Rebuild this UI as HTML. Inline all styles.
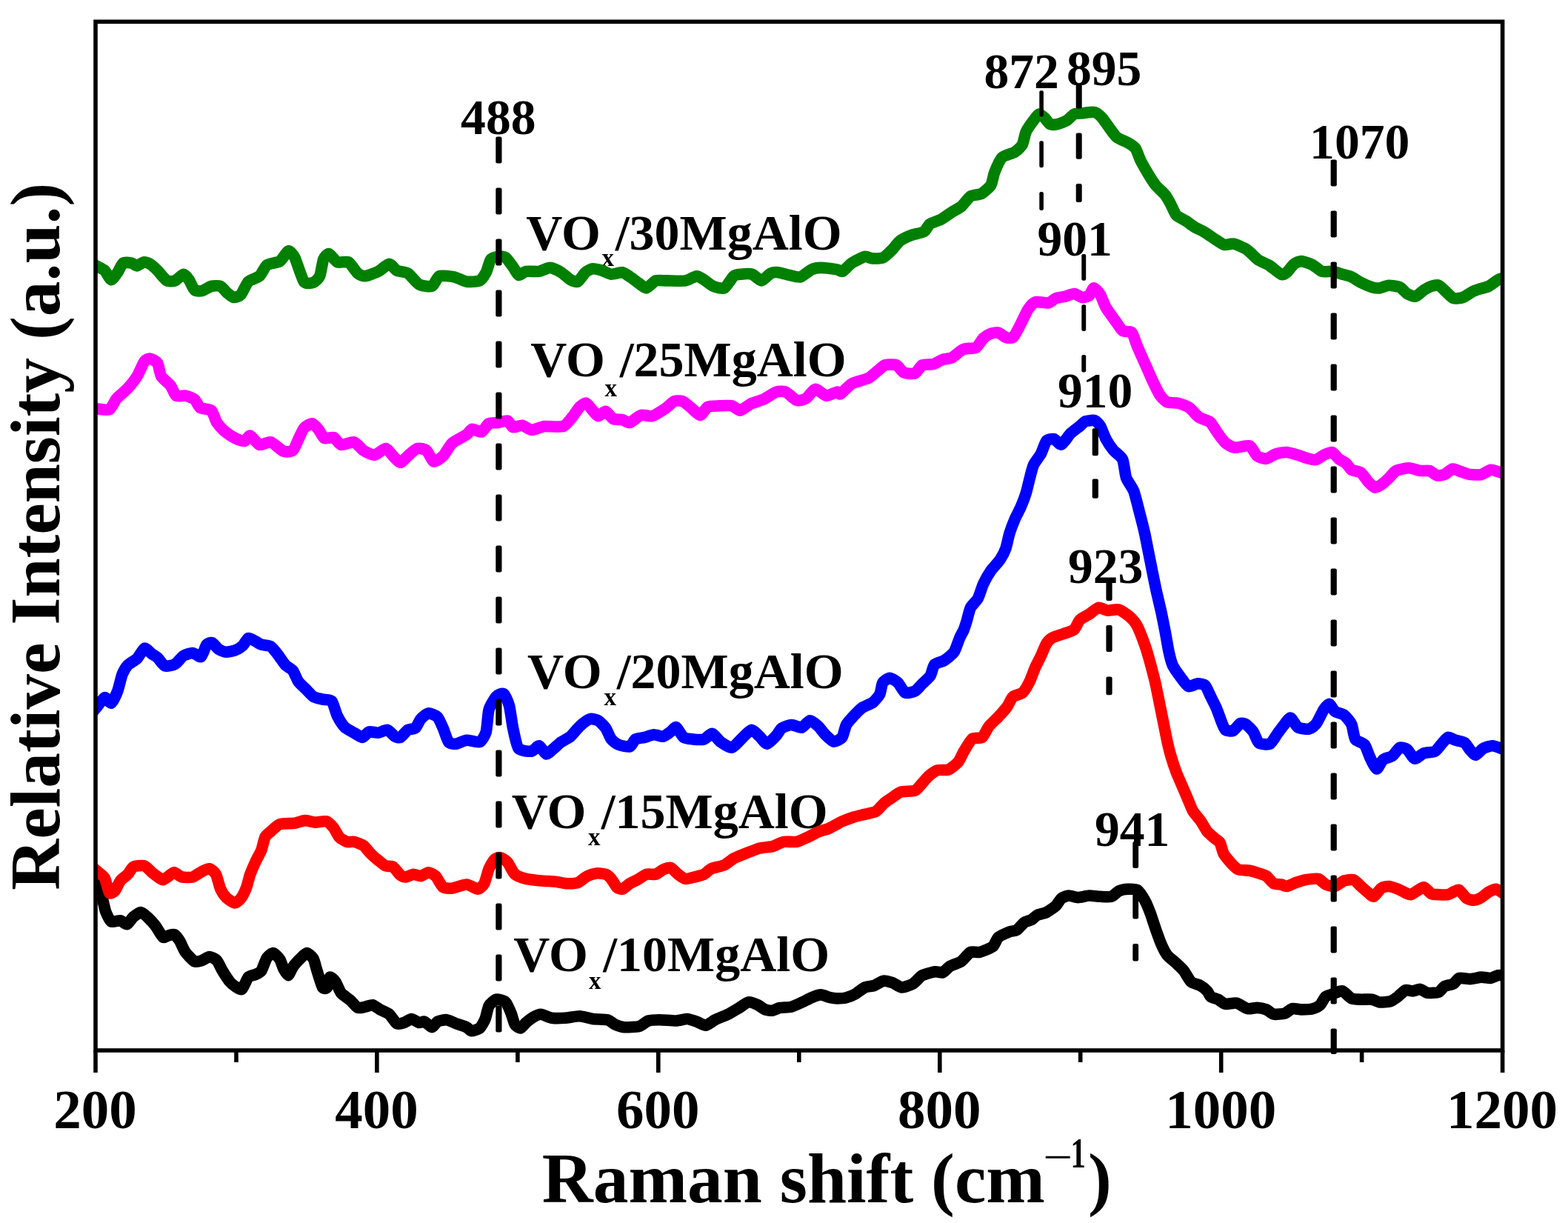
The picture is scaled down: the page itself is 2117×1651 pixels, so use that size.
<!DOCTYPE html>
<html lang="en"><head><meta charset="utf-8"><title>Raman spectra of VOx/MgAlO catalysts</title>
<style>html,body{margin:0;padding:0;background:#fff}body{width:2117px;height:1651px;overflow:hidden}svg{display:block}text{font-family:"Liberation Serif","DejaVu Serif",serif;font-weight:bold;fill:#000}.pk{font-size:67.6px}.cl{font-size:68px}.sub{font-size:33px}.tk{font-size:75px;text-anchor:middle}.ax{font-size:95.5px}.sup{font-size:57px}.cv{fill:none;stroke-linejoin:round;stroke-linecap:butt}</style></head><body>
<svg width="2117" height="1651" viewBox="0 0 2117 1651">
<rect width="2117" height="1651" fill="#fff"/>
<g>
<text class="cl" x="710.3" y="337.3">VO</text><text class="sub" x="812.5" y="359">x</text><text class="cl" x="830.7" y="337.3">/30MgAlO</text>
<text class="cl" x="716.3" y="508">VO</text><text class="sub" x="816.5" y="534.5">x</text><text class="cl" x="836.7" y="508">/25MgAlO</text>
<text class="cl" x="711.9" y="929">VO</text><text class="sub" x="815.5" y="952">x</text><text class="cl" x="832.7" y="929">/20MgAlO</text>
<text class="cl" x="690.7" y="1117.6">VO</text><text class="sub" x="794.0" y="1141">x</text><text class="cl" x="811.7" y="1117.6">/15MgAlO</text>
<text class="cl" x="693.3" y="1311">VO</text><text class="sub" x="795.0" y="1335">x</text><text class="cl" x="814.2" y="1311">/10MgAlO</text>
</g>
<clipPath id="plot"><rect x="129.0" y="29.3" width="1899.6" height="1388.7"/></clipPath>
<g clip-path="url(#plot)">
<path class="cv" stroke="#000000" stroke-width="15.6" d="M118,1158.2 C119.3,1161.6 127.9,1184.7 130,1190.2 C132.1,1195.7 136.3,1205.9 137.6,1210.2 C138.9,1214.5 141.3,1226.7 142.6,1230.3 C143.9,1233.9 148.0,1242.7 150.1,1244 C152.2,1245.3 160.3,1242.4 162.6,1242.8 C164.9,1243.2 169.5,1248.3 171.4,1247.8 C173.3,1247.3 178.1,1239.5 180.1,1237.8 C182.1,1236.1 188.0,1231.4 190.1,1231.5 C192.2,1231.6 198.0,1237.0 200.1,1239 C202.2,1241.0 208.1,1247.5 210.2,1250.3 C212.3,1253.1 218.3,1264.0 220.2,1265.3 C222.1,1266.6 226.1,1263.2 227.7,1262.8 C229.3,1262.4 233.6,1260.8 235.2,1261.6 C236.8,1262.4 241.1,1267.8 242.7,1270.3 C244.3,1272.8 248.1,1282.4 250.2,1285.3 C252.3,1288.2 260.3,1296.7 262.7,1297.9 C265.1,1299.1 270.6,1297.3 272.7,1296.6 C274.8,1295.9 280.7,1291.6 282.8,1291.6 C284.9,1291.6 290.9,1294.6 292.8,1296.6 C294.7,1298.6 298.4,1307.3 300.3,1310.4 C302.2,1313.5 308.4,1323.1 310.3,1325.4 C312.2,1327.7 316.1,1330.6 317.8,1331.7 C319.5,1332.8 324.7,1336.7 326.6,1335.4 C328.5,1334.1 333.3,1321.2 335.3,1319.1 C337.3,1317.0 343.4,1316.3 345.3,1315.4 C347.2,1314.5 351.3,1312.8 352.9,1310.4 C354.5,1308.0 358.7,1295.3 360.4,1292.8 C362.1,1290.3 367.2,1286.3 369.1,1286.6 C371.0,1286.9 376.4,1293.0 377.9,1295.3 C379.4,1297.6 381.7,1305.6 382.9,1307.9 C384.1,1310.2 387.9,1316.9 389.2,1316.6 C390.5,1316.3 393.7,1307.8 395.4,1305.4 C397.1,1303.0 403.4,1296.1 405.4,1294.1 C407.4,1292.1 412.3,1286.6 414.2,1286.6 C416.1,1286.6 421.5,1291.6 423,1294.1 C424.5,1296.6 426.7,1306.3 428,1310.4 C429.3,1314.5 434.0,1330.5 435.5,1332.9 C437.0,1335.3 440.6,1334.4 441.7,1332.9 C442.8,1331.4 444.3,1319.9 445.5,1319.1 C446.7,1318.3 451.4,1323.1 453,1325.4 C454.6,1327.7 458.4,1337.7 460.5,1340.4 C462.6,1343.1 470.6,1348.3 473,1350.4 C475.4,1352.5 480.9,1359.5 483,1360.4 C485.1,1361.3 491.0,1359.6 493.1,1359.2 C495.2,1358.8 501.0,1356.3 503.1,1356.7 C505.2,1357.1 510.7,1361.6 513.1,1362.9 C515.5,1364.2 523.2,1367.2 525.6,1369.2 C528.0,1371.2 533.5,1380.5 535.6,1381.7 C537.7,1382.9 543.5,1381.2 545.6,1380.5 C547.7,1379.8 553.5,1375.5 555.6,1375.5 C557.7,1375.5 563.8,1380.1 565.7,1380.5 C567.6,1380.9 571.3,1378.5 573.2,1379.2 C575.1,1379.9 581.3,1386.7 583.2,1386.7 C585.1,1386.7 588.6,1380.3 590.7,1379.2 C592.8,1378.1 600.5,1376.4 603.2,1376.7 C605.9,1377.0 612.8,1380.6 615.7,1381.7 C618.6,1382.8 627.8,1385.6 630,1386.7 C632.2,1387.8 634.4,1391.6 636.3,1391.7 C638.2,1391.8 645.6,1389.7 647.6,1388 C649.6,1386.3 653.8,1378.7 655.1,1375.5 C656.4,1372.3 658.5,1360.7 660.1,1357.9 C661.7,1355.1 667.7,1349.7 670.1,1349.2 C672.5,1348.7 680.5,1350.9 682.6,1352.9 C684.7,1354.9 688.8,1364.8 690.1,1368 C691.4,1371.2 693.8,1380.9 695.1,1383 C696.4,1385.1 701.0,1388.3 702.6,1388 C704.2,1387.7 708.3,1382.1 710.2,1380.5 C712.1,1378.9 718.1,1374.2 720.2,1373 C722.3,1371.8 727.5,1369.1 730.2,1369.2 C732.9,1369.3 741.7,1373.7 745.2,1374.2 C748.7,1374.7 758.7,1374.5 762.7,1374.2 C766.7,1373.9 778.8,1371.6 782.8,1371.7 C786.8,1371.8 796.3,1375.0 800.3,1375.5 C804.3,1376.0 817.1,1375.9 820.3,1376.7 C823.5,1377.5 827.9,1381.9 830.3,1383 C832.7,1384.1 839.3,1386.4 842.8,1386.7 C846.3,1387.0 859.4,1386.4 862.9,1385.5 C866.4,1384.6 872.5,1378.9 875.4,1378 C878.3,1377.1 886.4,1376.7 890.4,1376.7 C894.4,1376.7 908.9,1378.1 912.9,1378 C916.9,1377.9 925.1,1375.4 928,1375.5 C930.9,1375.6 937.8,1378.3 940.5,1379.2 C943.2,1380.1 950.3,1384.5 953,1384.2 C955.7,1383.9 962.3,1378.3 965.5,1376.7 C968.7,1375.1 979.5,1370.9 983,1369.2 C986.5,1367.5 995.2,1362.1 998.1,1360.4 C1001.0,1358.7 1007.9,1353.3 1010.6,1352.9 C1013.3,1352.5 1020.7,1355.6 1023.1,1356.7 C1025.5,1357.8 1031.0,1362.1 1033.1,1362.9 C1035.2,1363.7 1041.0,1364.5 1043.1,1364.2 C1045.2,1363.9 1050.4,1360.9 1053.1,1360.4 C1055.8,1359.9 1065.0,1360.0 1068.2,1359.2 C1071.4,1358.4 1080.3,1354.2 1083.2,1352.9 C1086.1,1351.6 1093.0,1347.8 1095.7,1346.7 C1098.4,1345.6 1105.5,1342.9 1108.2,1342.9 C1110.9,1342.9 1118.4,1346.2 1120.7,1346.7 C1123.0,1347.2 1127.7,1347.9 1130,1347.9 C1132.3,1347.9 1139.9,1347.4 1142.6,1346.7 C1145.3,1346.0 1152.4,1343.2 1155.1,1341.7 C1157.8,1340.2 1164.9,1334.2 1167.6,1333 C1170.3,1331.8 1177.4,1331.4 1180.1,1330.5 C1182.8,1329.6 1189.9,1324.6 1192.6,1324.2 C1195.3,1323.8 1202.4,1325.8 1205.1,1326.7 C1207.8,1327.6 1214.8,1332.9 1217.7,1333 C1220.6,1333.1 1229.8,1329.7 1232.7,1328 C1235.6,1326.3 1242.0,1318.4 1245.2,1316.7 C1248.4,1315.0 1259.8,1312.1 1262.7,1311.7 C1265.6,1311.3 1270.6,1313.7 1272.7,1312.9 C1274.8,1312.1 1280.1,1305.8 1282.8,1304.2 C1285.5,1302.6 1294.9,1299.9 1297.8,1297.9 C1300.7,1295.9 1307.6,1286.7 1310.3,1285.4 C1313.0,1284.1 1319.6,1286.2 1322.8,1285.4 C1326.0,1284.6 1337.6,1280.0 1340.3,1277.9 C1343.0,1275.8 1345.5,1267.5 1347.9,1265.4 C1350.3,1263.3 1360.2,1259.0 1362.9,1257.9 C1365.6,1256.8 1370.8,1256.7 1372.9,1255.4 C1375.0,1254.1 1380.8,1246.8 1382.9,1245.3 C1385.0,1243.8 1391.0,1242.7 1392.9,1241.6 C1394.8,1240.5 1398.3,1236.4 1400.4,1235.3 C1402.5,1234.2 1410.2,1232.9 1412.9,1231.6 C1415.6,1230.3 1423.4,1224.8 1425.5,1222.8 C1427.6,1220.8 1431.1,1214.3 1433,1212.8 C1434.9,1211.3 1440.6,1209.1 1443,1209 C1445.4,1208.9 1452.6,1211.6 1455.5,1211.6 C1458.4,1211.6 1467.3,1209.1 1470.5,1209 C1473.7,1208.9 1482.3,1210.2 1485.5,1210.3 C1488.7,1210.4 1497.9,1211.1 1500.6,1210.3 C1503.3,1209.5 1508.2,1203.9 1510.6,1202.8 C1513.0,1201.7 1520.4,1200.4 1523.1,1200.3 C1525.8,1200.2 1533.2,1199.9 1535.6,1201.5 C1538.0,1203.1 1543.7,1212.0 1545.6,1215.3 C1547.5,1218.6 1551.5,1228.5 1553.1,1232.8 C1554.7,1237.1 1559.1,1250.9 1560.7,1255.4 C1562.3,1259.9 1566.6,1271.8 1568.2,1275.4 C1569.8,1279.0 1573.6,1286.5 1575.7,1289.2 C1577.8,1291.9 1585.8,1298.1 1588.2,1300.4 C1590.6,1302.7 1596.1,1307.7 1598.2,1310.4 C1600.3,1313.1 1605.8,1323.4 1608.2,1325.5 C1610.6,1327.6 1618.4,1329.2 1620.7,1330.5 C1623.0,1331.8 1628.5,1336.4 1630,1338 C1631.5,1339.6 1633.0,1344.2 1634.6,1345.4 C1636.2,1346.6 1642.5,1348.1 1644.6,1349.2 C1646.7,1350.3 1651.9,1354.9 1654.6,1355.4 C1657.3,1355.9 1666.4,1353.5 1669.6,1354.2 C1672.8,1354.9 1681.7,1361.0 1684.6,1361.7 C1687.5,1362.4 1694.5,1360.3 1697.2,1360.4 C1699.9,1360.5 1707.3,1362.0 1709.7,1362.9 C1712.1,1363.8 1717.0,1368.7 1719.7,1369.2 C1722.4,1369.7 1732.0,1368.8 1734.7,1368 C1737.4,1367.2 1742.3,1362.2 1744.7,1361.7 C1747.1,1361.2 1754.3,1362.9 1757.2,1362.9 C1760.1,1362.9 1769.6,1362.4 1772.3,1361.7 C1775.0,1361.0 1780.4,1358.4 1782.3,1356.7 C1784.2,1355.0 1787.9,1347.0 1789.8,1345.4 C1791.7,1343.8 1797.4,1342.5 1799.8,1341.7 C1802.2,1340.9 1809.6,1337.2 1812.3,1337.9 C1815.0,1338.6 1822.1,1346.7 1824.8,1347.9 C1827.5,1349.1 1834.5,1349.1 1837.4,1349.2 C1840.3,1349.3 1849.7,1348.8 1852.4,1349.2 C1855.1,1349.6 1859.7,1352.6 1862.4,1352.9 C1865.1,1353.2 1874.7,1352.5 1877.4,1351.7 C1880.1,1350.9 1885.3,1347.0 1887.4,1345.4 C1889.5,1343.8 1895.3,1337.5 1897.4,1336.7 C1899.5,1335.9 1905.4,1338.0 1907.5,1337.9 C1909.6,1337.8 1915.4,1335.1 1917.5,1335.4 C1919.6,1335.7 1924.8,1340.0 1927.5,1340.4 C1930.2,1340.8 1940.1,1340.1 1942.5,1339.2 C1944.9,1338.3 1947.9,1332.9 1950,1331.7 C1952.1,1330.5 1960.4,1329.1 1962.5,1327.9 C1964.6,1326.7 1967.6,1321.1 1970,1320.4 C1972.4,1319.7 1981.9,1321.7 1985.1,1321.6 C1988.3,1321.5 1997.2,1319.2 2000.1,1319.1 C2003.0,1319.0 2010.2,1320.7 2012.6,1320.4 C2015.0,1320.1 2020.7,1317.0 2022.6,1316.6 C2024.5,1316.2 2028.0,1316.6 2030.1,1316.6 C2032.2,1316.6 2040.8,1316.6 2042.1,1316.6"/>
<path class="cv" stroke="#ff0000" stroke-width="15.6" d="M118,1164.5 C119.3,1165.6 127.5,1173.0 130,1175.2 C132.5,1177.4 139.4,1182.0 141.3,1185.2 C143.2,1188.4 146.1,1203.3 147.6,1205.2 C149.1,1207.1 153.5,1204.4 155.1,1202.7 C156.7,1201.0 160.7,1191.3 162.6,1188.9 C164.5,1186.5 170.7,1182.2 172.6,1180.2 C174.5,1178.2 177.7,1171.4 180.1,1170.2 C182.5,1169.0 192.4,1168.1 195.1,1168.9 C197.8,1169.7 203.0,1176.0 205.1,1177.7 C207.2,1179.4 213.6,1184.1 215.2,1185.2 C216.8,1186.3 218.9,1188.0 220.2,1187.7 C221.5,1187.4 226.1,1183.8 227.7,1182.7 C229.3,1181.6 233.3,1177.6 235.2,1177.7 C237.1,1177.8 242.5,1183.2 245.2,1183.9 C247.9,1184.6 257.3,1184.7 260.2,1183.9 C263.1,1183.1 270.3,1177.6 272.7,1176.4 C275.1,1175.2 280.8,1172.3 282.8,1172.7 C284.8,1173.1 289.9,1177.3 291.5,1180.2 C293.1,1183.1 296.3,1196.9 297.8,1200.2 C299.3,1203.5 303.3,1209.5 305.3,1211.5 C307.3,1213.5 314.5,1218.9 316.6,1219 C318.7,1219.1 323.6,1215.0 325.3,1212.7 C327.0,1210.4 331.5,1201.2 332.8,1197.7 C334.1,1194.2 336.5,1183.9 337.8,1180.2 C339.1,1176.5 343.7,1166.2 345.3,1162.7 C346.9,1159.2 351.6,1151.1 352.9,1147.6 C354.2,1144.1 356.6,1132.8 357.9,1130.1 C359.2,1127.4 363.3,1124.5 365.4,1122.6 C367.5,1120.7 374.4,1113.8 377.9,1112.6 C381.4,1111.4 394.3,1111.8 397.9,1111.3 C401.5,1110.8 408.8,1107.7 411.7,1107.6 C414.6,1107.5 422.4,1110.0 425.5,1110.1 C428.6,1110.2 437.8,1108.0 440.5,1108.8 C443.2,1109.6 448.6,1115.3 450.5,1117.6 C452.4,1119.9 456.1,1128.1 458,1130.1 C459.9,1132.1 465.9,1135.7 468,1136.4 C470.1,1137.1 475.6,1135.9 478,1136.4 C480.4,1136.9 488.2,1139.7 490.6,1141.4 C493.0,1143.1 498.5,1150.5 500.6,1152.6 C502.7,1154.7 508.5,1159.7 510.6,1161.4 C512.7,1163.1 518.5,1168.0 520.6,1168.9 C522.7,1169.8 528.5,1168.9 530.6,1170.2 C532.7,1171.5 538.7,1179.9 540.6,1181.4 C542.5,1182.9 546.2,1184.0 548.1,1183.9 C550.0,1183.8 556.1,1180.3 558.2,1180.2 C560.3,1180.1 566.1,1183.0 568.2,1182.7 C570.3,1182.4 576.1,1177.7 578.2,1177.7 C580.3,1177.7 586.1,1180.6 588.2,1182.7 C590.3,1184.8 595.8,1196.0 598.2,1197.7 C600.6,1199.4 607.3,1199.4 610.7,1199 C614.1,1198.6 626.3,1193.9 630,1194 C633.7,1194.1 642.6,1200.3 645.1,1200.2 C647.6,1200.1 652.2,1195.6 653.8,1192.7 C655.4,1189.8 658.6,1176.2 660.1,1172.7 C661.6,1169.2 666.0,1161.8 667.6,1160.2 C669.2,1158.6 673.2,1157.3 675.1,1157.7 C677.0,1158.1 683.0,1161.5 685.1,1163.9 C687.2,1166.3 692.4,1177.8 695.1,1180.2 C697.8,1182.6 706.5,1185.5 710.2,1186.4 C713.9,1187.3 725.9,1188.5 730.2,1188.9 C734.5,1189.3 746.5,1189.8 750.2,1190.2 C753.9,1190.6 762.0,1192.6 765.2,1192.7 C768.4,1192.8 777.4,1192.6 780.3,1191.5 C783.2,1190.4 790.1,1184.0 792.8,1182.7 C795.5,1181.4 802.6,1179.2 805.3,1178.9 C808.0,1178.6 815.7,1179.4 817.8,1180.2 C819.9,1181.0 823.7,1184.5 825.3,1186.4 C826.9,1188.3 831.2,1196.2 832.8,1197.7 C834.4,1199.2 838.4,1200.7 840.3,1200.2 C842.2,1199.7 848.3,1194.0 850.4,1192.7 C852.5,1191.4 858.0,1189.0 860.4,1187.7 C862.8,1186.4 870.2,1181.0 872.9,1180.2 C875.6,1179.4 883.0,1180.9 885.4,1180.2 C887.8,1179.5 893.3,1174.8 895.4,1173.9 C897.5,1173.0 903.3,1170.7 905.4,1171.4 C907.5,1172.1 913.3,1178.6 915.4,1180.2 C917.5,1181.8 923.1,1186.0 925.5,1186.4 C927.9,1186.8 935.3,1184.6 938,1183.9 C940.7,1183.2 948.1,1181.4 950.5,1180.2 C952.9,1179.0 957.6,1174.0 960.5,1172.7 C963.4,1171.4 974.8,1169.2 978,1167.7 C981.2,1166.2 987.7,1160.5 990.6,1158.9 C993.5,1157.3 1001.9,1154.1 1005.6,1152.6 C1009.3,1151.1 1021.6,1146.2 1025.6,1145.1 C1029.6,1144.0 1039.6,1143.5 1043.1,1142.6 C1046.6,1141.7 1054.7,1137.1 1058.2,1136.4 C1061.7,1135.7 1072.2,1137.1 1075.7,1136.4 C1079.2,1135.7 1087.5,1131.6 1090.7,1130.1 C1093.9,1128.6 1102.8,1123.8 1105.7,1122.6 C1108.6,1121.4 1115.6,1119.9 1118.2,1118.8 C1120.8,1117.7 1128.0,1113.7 1130,1112.6 C1132.0,1111.5 1134.6,1109.9 1136.9,1108.9 C1139.2,1107.9 1148.8,1104.2 1152,1103.2 C1155.2,1102.2 1163.9,1100.2 1167.1,1099.4 C1170.3,1098.6 1179.5,1097.2 1182.3,1095.6 C1185.1,1094.0 1191.4,1086.2 1193.6,1084.3 C1195.8,1082.4 1200.6,1079.3 1203,1077.7 C1205.4,1076.1 1212.9,1070.3 1216.3,1069.2 C1219.7,1068.1 1232.2,1068.5 1235.2,1067.3 C1238.2,1066.1 1242.6,1059.9 1244.6,1057.8 C1246.6,1055.7 1251.9,1049.3 1254.1,1047.4 C1256.3,1045.5 1262.6,1040.8 1265.4,1039.9 C1268.2,1039.0 1277.5,1040.1 1280.5,1038.9 C1283.5,1037.7 1291.5,1031.2 1293.7,1028.6 C1295.9,1026.0 1299.3,1017.7 1301.3,1014.4 C1303.3,1011.1 1310.0,999.4 1312.6,997.4 C1315.2,995.4 1323.5,997.3 1325.9,995.5 C1328.3,993.7 1332.9,983.4 1335.3,980.4 C1337.7,977.4 1345.9,969.9 1348.5,967.1 C1351.1,964.3 1357.9,956.7 1359.9,953.9 C1361.9,951.1 1365.2,942.7 1367.4,940.7 C1369.6,938.7 1378.3,937.2 1380.7,935 C1383.1,932.8 1388.3,923.5 1390.1,919.9 C1391.9,916.3 1396.1,904.6 1397.7,901 C1399.3,897.4 1403.6,889.3 1405.2,885.9 C1406.8,882.5 1411.2,871.5 1412.8,868.9 C1414.4,866.3 1417.9,862.7 1420.3,861.3 C1422.7,859.9 1432.3,856.9 1435.5,855.7 C1438.7,854.5 1447.6,852.0 1450,850 C1452.4,848.0 1455.8,838.9 1458,836.7 C1460.2,834.5 1467.8,830.9 1470.5,829.2 C1473.2,827.5 1480.3,820.9 1483,820.4 C1485.7,819.9 1492.7,823.9 1495.6,824.2 C1498.5,824.5 1507.4,822.0 1510.6,822.9 C1513.8,823.8 1522.9,830.5 1525.6,832.9 C1528.3,835.3 1533.5,841.5 1535.6,845.5 C1537.7,849.5 1543.7,865.2 1545.6,870.5 C1547.5,875.8 1551.5,889.6 1553.1,895.5 C1554.7,901.4 1558.3,914.5 1560.7,925.6 C1563.1,936.7 1573.6,989.9 1575.7,1000 C1577.8,1010.1 1579.4,1015.5 1580.7,1020 C1582.0,1024.5 1586.6,1038.3 1588.2,1042.6 C1589.8,1046.9 1594.1,1056.4 1595.7,1060.1 C1597.3,1063.8 1601.6,1073.9 1603.2,1077.6 C1604.8,1081.3 1608.8,1091.9 1610.7,1095.1 C1612.6,1098.3 1618.6,1104.8 1620.7,1107.7 C1622.8,1110.6 1628.0,1120.2 1630,1122.7 C1632.0,1125.2 1637.8,1129.8 1639.6,1131.4 C1641.4,1133.0 1645.8,1135.3 1647.1,1137.6 C1648.4,1139.9 1650.5,1149.7 1652.1,1152.6 C1653.7,1155.5 1660.0,1162.9 1662.1,1165.2 C1664.2,1167.5 1669.4,1172.8 1672.1,1173.9 C1674.8,1175.0 1684.2,1174.7 1687.1,1175.2 C1690.0,1175.7 1697.3,1178.1 1699.7,1178.9 C1702.1,1179.7 1707.6,1181.2 1709.7,1182.7 C1711.8,1184.2 1717.6,1191.5 1719.7,1192.7 C1721.8,1193.9 1727.8,1193.6 1729.7,1194 C1731.6,1194.4 1735.1,1196.8 1737.2,1196.5 C1739.3,1196.2 1747.0,1192.4 1749.7,1191.5 C1752.4,1190.6 1759.0,1188.2 1762.2,1187.7 C1765.4,1187.2 1776.9,1185.7 1779.8,1186.4 C1782.7,1187.1 1787.4,1192.9 1789.8,1194 C1792.2,1195.1 1799.6,1197.0 1802.3,1196.5 C1805.0,1196.0 1812.1,1189.8 1814.8,1188.9 C1817.5,1188.0 1824.9,1186.9 1827.3,1187.7 C1829.7,1188.5 1835.3,1194.6 1837.4,1196.5 C1839.5,1198.4 1845.5,1203.7 1847.4,1205.2 C1849.3,1206.7 1853.0,1210.9 1854.9,1210.2 C1856.8,1209.5 1862.8,1200.5 1864.9,1199 C1867.0,1197.5 1872.5,1196.4 1874.9,1196.5 C1877.3,1196.6 1885.0,1199.3 1887.4,1200.2 C1889.8,1201.1 1895.5,1204.4 1897.4,1205.2 C1899.3,1206.0 1903.1,1208.1 1905,1207.7 C1906.9,1207.3 1913.1,1202.6 1915,1201.5 C1916.9,1200.4 1920.6,1197.2 1922.5,1197.7 C1924.4,1198.2 1930.4,1205.4 1932.5,1206.5 C1934.6,1207.6 1940.1,1207.6 1942.5,1207.7 C1944.9,1207.8 1952.9,1208.1 1955,1207.7 C1957.1,1207.3 1960.9,1204.7 1962.5,1204 C1964.1,1203.3 1968.1,1200.6 1970,1201.5 C1971.9,1202.4 1978.0,1211.2 1980.1,1212.7 C1982.2,1214.2 1988.0,1215.3 1990.1,1215.2 C1992.2,1215.1 1998.0,1212.7 2000.1,1211.5 C2002.2,1210.3 2008.0,1205.2 2010.1,1204 C2012.2,1202.8 2018.0,1199.9 2020.1,1200.2 C2022.2,1200.5 2027.8,1205.0 2030.1,1206.5 C2032.4,1208.0 2040.8,1213.2 2042.1,1214"/>
<path class="cv" stroke="#0000ff" stroke-width="15.6" d="M118,970 C119.3,968.4 127.5,958.4 130,955.4 C132.5,952.4 139.2,942.3 141.3,941.6 C143.4,940.9 148.2,950.0 150.1,949.1 C152.0,948.2 157.2,936.9 158.8,932.8 C160.4,928.7 163.6,914.0 165.1,910.3 C166.6,906.6 170.5,900.1 172.6,897.8 C174.7,895.5 182.7,891.4 185.1,889 C187.5,886.6 193.0,875.9 195.1,875.2 C197.2,874.5 203.2,881.5 205.1,882.8 C207.0,884.1 210.8,886.1 212.7,887.8 C214.6,889.5 220.2,898.1 222.7,899 C225.2,899.9 233.7,898.0 236.4,896.5 C239.1,895.0 245.2,886.9 247.7,885.3 C250.2,883.7 257.7,881.4 260.2,881.5 C262.7,881.6 269.5,887.7 271.5,886.5 C273.5,885.3 277.4,872.2 279,870.2 C280.6,868.2 284.8,867.0 286.5,867.7 C288.2,868.4 293.3,875.2 295.3,876.5 C297.3,877.8 302.9,880.2 305.3,880.3 C307.7,880.4 315.4,878.7 317.8,877.8 C320.2,876.9 325.9,873.2 327.8,871.5 C329.7,869.8 333.6,862.2 335.3,861.5 C337.0,860.8 342.2,864.3 344.1,865.2 C346.0,866.1 350.6,869.4 352.9,870.2 C355.2,871.0 363.0,871.2 365.4,872.7 C367.8,874.2 373.3,881.3 375.4,884 C377.5,886.7 383.3,895.5 385.4,897.8 C387.5,900.1 393.5,902.9 395.4,905.3 C397.3,907.7 401.0,917.6 402.9,920.3 C404.8,923.0 410.8,928.2 412.9,930.3 C415.0,932.4 420.6,938.8 423,940.3 C425.4,941.8 432.8,943.4 435.5,944.1 C438.2,944.8 445.9,944.2 448,946.6 C450.1,949.0 453.6,962.9 455.5,966.6 C457.4,970.3 463.1,979.3 465.5,981.7 C467.9,984.1 475.5,987.7 478,989.2 C480.5,990.7 487.2,995.5 489.3,995.4 C491.4,995.3 495.8,988.6 498.1,987.9 C500.4,987.2 507.9,989.5 510.6,989.2 C513.3,988.9 520.7,984.9 523.1,985.4 C525.5,985.9 531.2,993.1 533.1,994.2 C535.0,995.3 538.7,996.3 540.6,995.4 C542.5,994.5 548.5,986.7 550.6,985.4 C552.7,984.1 558.8,984.5 560.7,982.9 C562.6,981.3 566.3,972.5 568.2,970.4 C570.1,968.3 575.8,963.2 578.2,962.9 C580.6,962.6 588.6,965.8 590.7,967.9 C592.8,970.0 596.6,979.3 598.2,982.9 C599.8,986.5 603.8,999.4 605.7,1001.7 C607.6,1004.0 613.1,1004.5 615.7,1004.2 C618.3,1003.9 626.6,999.5 630,999.2 C633.4,998.9 644.8,1002.9 647.6,1001.7 C650.4,1000.5 655.0,992.6 656.3,987.9 C657.6,983.2 658.6,963.0 660.1,957.9 C661.6,952.8 668.0,942.6 670.1,940.3 C672.2,938.0 678.2,935.3 680.1,936.6 C682.0,937.9 686.3,948.0 687.6,952.9 C688.9,957.8 691.3,976.8 692.6,982.9 C693.9,989.0 697.4,1007.1 700.1,1010.4 C702.8,1013.7 714.8,1014.6 717.7,1014.2 C720.6,1013.8 725.6,1006.3 727.7,1006.7 C729.8,1007.1 735.6,1017.6 737.7,1018 C739.8,1018.4 745.6,1012.1 747.7,1010.4 C749.8,1008.7 755.3,1003.4 757.7,1001.7 C760.1,1000.0 767.8,996.2 770.2,994.2 C772.6,992.2 778.2,985.0 780.3,982.9 C782.4,980.8 788.4,975.4 790.3,974.1 C792.2,972.8 795.9,970.5 797.8,970.4 C799.7,970.3 805.7,971.6 807.8,972.9 C809.9,974.2 815.9,980.2 817.8,982.9 C819.7,985.6 823.4,995.5 825.3,997.9 C827.2,1000.3 832.6,1004.3 835.3,1005.4 C838.0,1006.5 848.0,1008.7 850.4,1007.9 C852.8,1007.1 855.8,999.2 857.9,997.9 C860.0,996.6 867.7,996.1 870.4,995.4 C873.1,994.7 880.2,991.8 882.9,991.7 C885.6,991.6 893.0,994.6 895.4,994.2 C897.8,993.8 903.5,989.2 905.4,987.9 C907.3,986.6 911.0,980.9 912.9,981.7 C914.8,982.5 920.6,993.7 923,995.4 C925.4,997.1 932.6,997.6 935.5,997.9 C938.4,998.2 947.7,998.7 950.5,997.9 C953.3,997.1 959.4,990.0 961.8,990.4 C964.2,990.8 970.2,999.7 973,1001.7 C975.8,1003.7 985.2,1009.6 988.1,1009.2 C991.0,1008.8 997.8,1000.4 1000.6,997.9 C1003.4,995.4 1011.6,985.8 1014.3,985.4 C1017.0,985.0 1023.3,992.2 1025.6,994.2 C1027.9,996.2 1033.2,1004.3 1035.6,1004.2 C1038.0,1004.1 1046.0,995.2 1048.1,992.9 C1050.2,990.6 1053.4,984.4 1055.6,982.9 C1057.8,981.4 1066.1,978.6 1068.9,978.5 C1071.7,978.4 1079.5,982.9 1082.1,982.3 C1084.7,981.7 1091.1,973.0 1093.5,972.8 C1095.9,972.6 1102.6,978.4 1104.8,980.4 C1107.0,982.4 1112.0,989.5 1114.2,991.7 C1116.4,993.9 1123.2,1000.8 1125.6,1001.2 C1128.0,1001.6 1135.1,997.9 1136.9,995.5 C1138.7,993.1 1141.0,981.5 1142.6,978.5 C1144.2,975.5 1149.8,969.5 1152,967.1 C1154.2,964.7 1160.6,957.8 1163.4,955.8 C1166.2,953.8 1175.9,950.3 1178.5,948.3 C1181.1,946.3 1186.5,939.7 1187.9,936.9 C1189.3,934.1 1190.3,924.1 1191.7,921.8 C1193.1,919.5 1199.0,915.2 1201.2,915.2 C1203.4,915.2 1210.3,919.7 1212.5,921.8 C1214.7,923.9 1219.5,933.8 1221.9,935 C1224.3,936.2 1232.8,934.3 1235.2,933.1 C1237.6,931.9 1242.4,925.9 1244.6,923.7 C1246.8,921.5 1254.2,915.2 1256,912.4 C1257.8,909.6 1259.6,899.4 1261.6,897.2 C1263.6,895.0 1272.0,893.4 1274.8,891.6 C1277.6,889.8 1285.9,883.4 1288.1,880.2 C1290.3,877.0 1294.2,864.5 1295.6,861.3 C1297.0,858.1 1300.3,852.5 1301.3,850 C1302.3,847.5 1304.3,841.2 1305.3,838 C1306.3,834.8 1308.7,823.6 1310.3,820.4 C1311.9,817.2 1318.4,811.4 1320.3,807.9 C1322.2,804.4 1325.9,791.9 1327.8,787.9 C1329.7,783.9 1335.4,773.9 1337.8,770.4 C1340.2,766.9 1348.3,758.5 1350.4,755.3 C1352.5,752.1 1356.6,744.0 1357.9,740.3 C1359.2,736.6 1361.6,724.6 1362.9,720.3 C1364.2,716.0 1368.8,704.0 1370.4,700.3 C1372.0,696.6 1376.3,688.9 1377.9,685.2 C1379.5,681.5 1384.1,669.5 1385.4,665.2 C1386.7,660.9 1389.3,649.2 1390.4,645.2 C1391.5,641.2 1393.8,631.2 1395.4,627.7 C1397.0,624.2 1403.5,616.1 1405.4,612.6 C1407.3,609.1 1411.0,597.2 1412.9,595.1 C1414.8,593.0 1420.9,592.1 1423,592.6 C1425.1,593.1 1430.6,600.9 1433,600.1 C1435.4,599.3 1442.8,587.8 1445.5,585.1 C1448.2,582.4 1455.9,576.8 1458,575.1 C1460.1,573.4 1463.4,569.6 1465.5,568.8 C1467.6,568.0 1475.9,566.9 1478,567.6 C1480.1,568.3 1483.9,572.4 1485.5,575.1 C1487.1,577.8 1491.2,589.1 1493.1,592.6 C1495.0,596.1 1500.7,604.7 1503.1,607.6 C1505.5,610.5 1513.7,616.1 1515.6,620.1 C1517.5,624.1 1519.0,640.7 1520.6,645.2 C1522.2,649.7 1528.7,657.9 1530.6,662.7 C1532.5,667.5 1536.5,684.1 1538.1,690.2 C1539.7,696.3 1544.3,714.4 1545.6,720.3 C1546.9,726.2 1549.5,740.0 1550.6,745.3 C1551.7,750.6 1554.5,765.1 1555.6,770.4 C1556.7,775.7 1559.4,789.3 1560.7,795.4 C1562.0,801.5 1566.9,821.8 1568.2,827.9 C1569.5,834.0 1572.1,847.4 1573.2,853 C1574.3,858.6 1577.1,875.7 1578.2,880.5 C1579.3,885.3 1581.6,894.5 1583.2,898 C1584.8,901.5 1590.9,910.0 1593.2,913.1 C1595.5,916.2 1602.0,925.6 1604.5,926.6 C1607.0,927.6 1614.6,922.9 1617,922.8 C1619.4,922.7 1625.2,923.4 1627.1,925.3 C1629.0,927.2 1633.0,937.1 1634.6,940.3 C1636.2,943.5 1640.5,951.7 1642.1,955.4 C1643.7,959.1 1648.3,972.2 1649.6,975.4 C1650.9,978.6 1653.0,984.2 1654.6,985.4 C1656.2,986.6 1662.5,987.6 1664.6,986.7 C1666.7,985.8 1672.7,977.5 1674.6,976.6 C1676.5,975.7 1680.2,976.7 1682.1,977.9 C1684.0,979.1 1690.2,985.2 1692.1,987.9 C1694.0,990.6 1697.3,1001.2 1699.7,1002.9 C1702.1,1004.6 1712.0,1005.5 1714.7,1004.2 C1717.4,1002.9 1722.8,992.9 1724.7,990.4 C1726.6,987.9 1730.3,982.7 1732.2,980.4 C1734.1,978.1 1740.1,969.0 1742.2,969.1 C1744.3,969.2 1749.5,980.1 1752.2,981.7 C1754.9,983.3 1764.6,984.7 1767.3,984.2 C1770.0,983.7 1775.2,979.4 1777.3,976.6 C1779.4,973.8 1785.4,960.7 1787.3,957.9 C1789.2,955.1 1793.2,950.1 1794.8,950.4 C1796.4,950.7 1800.2,958.8 1802.3,960.4 C1804.4,962.0 1812.4,963.5 1814.8,965.4 C1817.2,967.3 1823.2,974.4 1824.8,977.9 C1826.4,981.4 1827.9,995.0 1829.8,997.9 C1831.7,1000.8 1840.3,1002.7 1842.4,1005.4 C1844.5,1008.1 1848.2,1019.5 1849.9,1023 C1851.6,1026.5 1856.7,1037.7 1858.6,1038 C1860.5,1038.3 1865.1,1027.4 1867.4,1025.5 C1869.7,1023.6 1877.5,1022.2 1879.9,1020.5 C1882.3,1018.8 1887.8,1010.1 1889.9,1009.2 C1892.0,1008.3 1897.8,1010.1 1899.9,1011.7 C1902.0,1013.3 1907.6,1023.7 1910,1024.2 C1912.4,1024.7 1919.6,1017.8 1922.5,1016.7 C1925.4,1015.6 1934.8,1015.7 1937.5,1014.2 C1940.2,1012.7 1945.6,1004.9 1947.5,1002.9 C1949.4,1000.9 1953.1,995.8 1955,995.4 C1956.9,995.0 1962.6,998.4 1965,999.2 C1967.4,1000.0 1975.5,1001.4 1977.6,1002.9 C1979.7,1004.4 1983.5,1011.2 1985.1,1012.9 C1986.7,1014.6 1990.7,1019.5 1992.6,1019.2 C1994.5,1018.9 2000.2,1011.7 2002.6,1010.4 C2005.0,1009.1 2012.2,1006.6 2015.1,1006.7 C2018.0,1006.8 2027.2,1010.7 2030.1,1011.7 C2033.0,1012.7 2040.8,1015.3 2042.1,1015.7"/>
<path class="cv" stroke="#ff00ff" stroke-width="15.6" d="M118,550.8 C119.3,550.9 126.8,551.5 130,551.7 C133.2,551.9 144.7,554.4 147.6,552.9 C150.5,551.4 154.9,541.0 157.6,537.9 C160.3,534.8 169.7,527.3 172.6,524.1 C175.5,520.9 182.7,511.8 185.1,507.9 C187.5,504.0 193.2,490.3 195.1,487.8 C197.0,485.3 200.7,483.8 202.6,484.1 C204.5,484.4 211.1,487.8 212.7,490.3 C214.3,492.8 215.8,504.7 217.7,507.9 C219.6,511.1 228.1,517.6 230.2,520.4 C232.3,523.2 235.6,532.7 237.7,534.2 C239.8,535.7 247.5,533.7 250.2,534.2 C252.9,534.7 260.6,537.5 262.7,539.2 C264.8,540.9 267.8,548.8 270.2,550.4 C272.6,552.0 282.9,552.1 285.3,554.2 C287.7,556.3 290.9,567.6 292.8,570.5 C294.7,573.4 300.1,579.4 302.8,581.7 C305.5,584.0 314.9,590.2 317.8,591.7 C320.7,593.2 328.2,595.9 330.3,595.5 C332.4,595.1 335.7,587.5 337.8,588 C339.9,588.5 347.5,599.6 350.4,600.5 C353.3,601.4 361.9,595.8 365.4,596.7 C368.9,597.6 379.7,608.1 382.9,609.3 C386.1,610.5 393.3,609.7 395.4,608 C397.5,606.3 401.3,596.2 402.9,593 C404.5,589.8 408.4,580.3 410.4,578 C412.4,575.7 419.6,571.4 421.7,571.7 C423.8,572.0 428.8,578.4 430.5,580.5 C432.2,582.6 435.9,590.6 438,591.7 C440.1,592.8 448.1,589.6 450.5,590.5 C452.9,591.4 457.6,599.8 460.5,600.5 C463.4,601.2 474.8,595.9 478,596.7 C481.2,597.5 487.7,606.1 490.6,608 C493.5,609.9 502.4,614.6 505.6,614.3 C508.8,614.0 517.9,605.4 520.6,605.5 C523.3,605.6 528.5,613.5 530.6,615.5 C532.7,617.5 538.5,624.3 540.6,624.3 C542.7,624.3 548.2,617.5 550.6,615.5 C553.0,613.5 560.5,606.3 563.2,605.5 C565.9,604.7 573.3,606.1 575.7,608 C578.1,609.9 583.3,622.2 585.7,623 C588.1,623.8 595.5,618.2 598.2,615.5 C600.9,612.8 607.3,601.1 610.7,598 C614.1,594.9 627.1,588.7 630,586.7 C632.9,584.7 635.5,579.6 637.6,579.2 C639.7,578.8 647.7,583.8 650.1,583 C652.5,582.2 657.7,573.0 660.1,571.7 C662.5,570.4 669.9,570.9 672.6,570.5 C675.3,570.1 683.0,567.3 685.1,568 C687.2,568.7 690.5,576.0 692.6,576.7 C694.7,577.4 702.4,573.8 705.1,574.2 C707.8,574.6 714.5,580.4 717.7,580.5 C720.9,580.6 730.7,576.0 735.2,575.5 C739.7,575.0 756.2,576.8 760.2,575.5 C764.2,574.2 770.3,565.7 772.7,562.9 C775.1,560.1 780.8,551.2 782.8,549.2 C784.8,547.2 789.6,543.7 791.5,544.2 C793.4,544.7 798.6,552.3 800.3,554.2 C802.0,556.1 805.9,561.6 807.8,561.7 C809.7,561.8 815.7,555.0 817.8,555.4 C819.9,555.8 825.4,564.2 827.8,565.4 C830.2,566.6 837.9,566.2 840.3,566.7 C842.7,567.2 847.7,571.2 850.4,570.5 C853.1,569.8 862.2,561.3 865.4,560.4 C868.6,559.5 876.9,562.6 880.4,561.7 C883.9,560.8 894.7,553.8 897.9,551.7 C901.1,549.6 907.9,542.8 910.4,541.7 C912.9,540.6 919.3,540.8 921.7,541.7 C924.1,542.6 930.5,548.4 933,550.4 C935.5,552.4 943.1,560.5 945.5,560.4 C947.9,560.3 952.8,550.5 955.5,549.2 C958.2,547.9 967.0,548.0 970.5,547.9 C974.0,547.8 985.0,547.2 988.1,547.9 C991.2,548.6 996.6,554.5 999.3,554.2 C1002.0,553.9 1009.8,547.0 1013.1,545.4 C1016.4,543.8 1026.9,540.9 1030.6,539.2 C1034.3,537.5 1044.9,530.2 1048.1,529.1 C1051.3,528.0 1057.8,527.9 1060.7,529.1 C1063.6,530.3 1072.8,539.5 1075.7,540.4 C1078.6,541.3 1085.5,539.5 1088.2,537.9 C1090.9,536.3 1097.8,525.8 1100.7,525.4 C1103.6,525.0 1112.6,533.8 1115.7,534.2 C1118.8,534.6 1127.9,529.4 1130,529.1 C1132.1,528.8 1132.9,532.9 1135,531.7 C1137.1,530.5 1146.1,520.2 1150.1,517.9 C1154.1,515.6 1168.9,512.3 1172.6,510.4 C1176.3,508.5 1182.7,502.3 1185.1,500.4 C1187.5,498.5 1192.4,493.6 1195.1,492.8 C1197.8,492.0 1207.5,491.7 1210.2,492.8 C1212.9,493.9 1217.5,501.7 1220.2,502.9 C1222.9,504.1 1232.5,505.2 1235.2,504.1 C1237.9,503.0 1242.5,494.1 1245.2,492.8 C1247.9,491.5 1257.3,492.4 1260.2,491.6 C1263.1,490.8 1270.0,486.2 1272.7,485.3 C1275.4,484.4 1282.4,484.3 1285.3,482.8 C1288.2,481.3 1296.8,473.1 1300.3,471.6 C1303.8,470.1 1314.9,470.7 1317.8,469.1 C1320.7,467.5 1325.7,458.5 1327.8,456.5 C1329.9,454.5 1335.7,451.1 1337.8,450.3 C1339.9,449.5 1345.8,448.5 1347.9,449 C1350.0,449.5 1355.8,454.6 1357.9,455.3 C1360.0,456.0 1365.8,457.2 1367.9,455.3 C1370.0,453.4 1375.8,441.8 1377.9,437.8 C1380.0,433.8 1385.8,420.9 1387.9,417.7 C1390.0,414.5 1395.0,408.6 1397.9,407.7 C1400.8,406.8 1412.5,409.5 1415.4,409 C1418.3,408.5 1423.1,403.6 1425.5,402.7 C1427.9,401.8 1435.3,400.9 1438,400.2 C1440.7,399.5 1448.1,396.4 1450.5,396.5 C1452.9,396.6 1458.4,401.2 1460.5,401.5 C1462.6,401.8 1468.8,400.3 1470.5,399 C1472.2,397.7 1475.2,389.0 1476.8,388.9 C1478.4,388.8 1483.8,394.9 1485.5,397.7 C1487.2,400.5 1491.0,411.5 1493.1,415.2 C1495.2,418.9 1503.2,429.5 1505.6,432.8 C1508.0,436.1 1513.2,444.8 1515.6,446.5 C1518.0,448.2 1526.0,446.7 1528.1,449 C1530.2,451.3 1533.7,463.4 1535.6,467.8 C1537.5,472.2 1543.5,485.5 1545.6,490.3 C1547.7,495.1 1553.5,508.4 1555.6,512.9 C1557.7,517.4 1563.6,529.7 1565.7,532.9 C1567.8,536.1 1573.0,541.7 1575.7,542.9 C1578.4,544.1 1587.5,543.4 1590.7,544.2 C1593.9,545.0 1602.8,548.4 1605.7,550.4 C1608.6,552.4 1615.6,561.0 1618.2,562.9 C1620.8,564.8 1628.3,567.2 1630,568 C1631.7,568.8 1633.0,568.6 1634.6,570.5 C1636.2,572.4 1642.5,582.6 1644.6,585.5 C1646.7,588.4 1652.2,596.0 1654.6,598 C1657.0,600.0 1663.6,603.9 1667.1,604.3 C1670.6,604.7 1683.9,600.6 1687.1,601.8 C1690.3,603.0 1694.8,613.6 1697.2,615.5 C1699.6,617.4 1707.0,619.6 1709.7,619.3 C1712.4,619.0 1719.3,613.9 1722.2,613 C1725.1,612.1 1734.0,610.4 1737.2,610.5 C1740.4,610.6 1749.0,613.4 1752.2,614.3 C1755.4,615.2 1764.6,618.6 1767.3,619.3 C1770.0,620.0 1775.2,621.0 1777.3,620.5 C1779.4,620.0 1785.0,615.4 1787.3,614.3 C1789.6,613.2 1796.5,610.0 1798.6,610.5 C1800.7,611.0 1805.3,617.7 1807.3,619.3 C1809.3,620.9 1815.4,623.9 1817.3,625.5 C1819.2,627.1 1822.7,633.0 1824.8,634.3 C1826.9,635.6 1835.0,636.4 1837.4,638.1 C1839.8,639.8 1845.4,648.5 1847.4,650.6 C1849.4,652.7 1854.2,657.7 1856.1,658.1 C1858.0,658.5 1862.9,655.6 1864.9,654.3 C1866.9,653.0 1872.8,647.6 1874.9,645.6 C1877.0,643.6 1882.0,637.0 1884.9,635.5 C1887.8,634.0 1898.9,631.8 1902.4,631.8 C1905.9,631.8 1914.6,635.1 1917.5,635.5 C1920.4,635.9 1927.6,634.8 1930,635.5 C1932.4,636.2 1937.9,641.3 1940,641.8 C1942.1,642.3 1947.7,641.5 1950,640.6 C1952.3,639.7 1958.9,633.4 1961.3,633 C1963.7,632.6 1970.0,636.0 1972.5,636.8 C1975.0,637.6 1982.2,640.2 1985.1,640.6 C1988.0,641.0 1997.2,641.3 2000.1,640.6 C2003.0,639.9 2010.2,634.7 2012.6,634.3 C2015.0,633.9 2020.7,636.3 2022.6,636.8 C2024.5,637.3 2028.0,638.6 2030.1,639.3 C2032.2,640.0 2040.8,642.9 2042.1,643.3"/>
<path class="cv" stroke="#008000" stroke-width="15.6" d="M118,352.2 C119.3,352.9 127.5,357.5 130,358.9 C132.5,360.3 139.2,363.2 141.3,365.2 C143.4,367.2 148.2,377.4 150.1,377.7 C152.0,378.0 157.1,370.1 158.8,367.7 C160.5,365.3 164.3,356.4 166.3,355.1 C168.3,353.8 175.6,354.7 177.6,355.1 C179.6,355.5 183.4,359.0 185.1,358.9 C186.8,358.8 192.0,354.2 193.9,353.9 C195.8,353.6 200.6,355.2 202.6,356.4 C204.6,357.6 210.3,362.8 212.7,365.2 C215.1,367.6 222.7,377.4 225.2,378.9 C227.7,380.4 234.0,379.8 236.4,378.9 C238.8,378.0 245.7,370.3 247.7,370.2 C249.7,370.1 253.6,375.4 255.2,377.7 C256.8,380.0 260.8,389.9 262.7,391.5 C264.6,393.1 270.3,393.2 272.7,392.7 C275.1,392.2 282.6,387.1 285.3,386.4 C288.0,385.7 295.5,385.5 297.8,386.4 C300.1,387.3 304.6,393.6 306.5,395.2 C308.4,396.8 313.3,401.2 315.3,401.5 C317.3,401.8 323.2,400.0 325.3,397.7 C327.4,395.4 332.6,382.9 335.3,380.2 C338.0,377.5 347.7,375.1 350.4,372.7 C353.1,370.3 357.5,359.8 360.4,357.7 C363.3,355.6 374.8,354.6 377.9,352.6 C381.0,350.6 387.1,339.4 389.2,338.9 C391.3,338.4 395.6,343.2 397.9,347.6 C400.2,352.0 407.7,376.6 410.4,380.2 C413.1,383.8 420.7,382.2 423,381.4 C425.3,380.6 430.2,376.0 431.7,372.7 C433.2,369.4 435.4,353.3 436.7,350.1 C438.0,346.9 442.2,342.2 444.2,342.6 C446.2,343.0 452.7,352.7 455.5,353.9 C458.3,355.1 467.6,352.3 470.5,353.9 C473.4,355.5 480.6,366.9 483,368.9 C485.4,370.9 490.2,373.0 493.1,372.7 C496.0,372.4 507.1,368.1 510.6,366.4 C514.1,364.7 522.9,356.5 525.6,356.4 C528.3,356.3 532.9,363.9 535.6,365.2 C538.3,366.5 547.4,366.9 550.6,368.9 C553.8,370.9 562.2,382.0 565.7,383.9 C569.2,385.8 580.3,387.6 583.2,386.4 C586.1,385.2 590.0,374.0 593.2,372.7 C596.4,371.4 609.3,373.1 613.2,373.9 C617.1,374.7 626.3,379.7 630,380.2 C633.7,380.7 644.8,380.2 647.6,378.9 C650.4,377.6 654.7,370.8 656.3,367.7 C657.9,364.6 660.9,352.4 662.6,350.1 C664.3,347.8 670.5,346.7 672.6,346.4 C674.7,346.1 680.5,346.1 682.6,347.6 C684.7,349.1 690.7,357.7 692.6,360.2 C694.5,362.7 698.2,370.7 700.1,371.4 C702.0,372.1 707.3,366.9 710.2,366.4 C713.1,365.9 724.2,366.9 727.7,366.4 C731.2,365.9 739.5,361.3 742.7,361.4 C745.9,361.5 754.8,366.0 757.7,367.7 C760.6,369.4 767.8,376.4 770.2,377.7 C772.6,379.0 778.2,381.3 780.3,380.2 C782.4,379.1 788.2,369.6 790.3,367.7 C792.4,365.8 797.9,363.0 800.3,362.7 C802.7,362.4 810.1,364.4 812.8,365.2 C815.5,366.0 822.4,369.9 825.3,370.2 C828.2,370.5 837.4,367.2 840.3,367.7 C843.2,368.2 850.5,373.6 852.9,375.2 C855.3,376.8 860.8,381.2 862.9,382.7 C865.0,384.2 870.5,389.3 872.9,388.9 C875.3,388.5 882.5,380.0 885.4,378.9 C888.3,377.8 896.1,378.9 900.4,378.9 C904.7,378.9 921.2,379.6 925.5,378.9 C929.8,378.2 937.8,372.8 940.5,372.7 C943.2,372.6 948.1,376.2 950.5,377.7 C952.9,379.2 960.1,385.2 963,386.4 C965.9,387.6 975.1,390.4 978,388.9 C980.9,387.4 988.2,374.7 990.6,372.7 C993.0,370.7 997.9,370.5 1000.6,370.2 C1003.3,369.9 1012.7,369.3 1015.6,370.2 C1018.5,371.1 1025.4,379.0 1028.1,378.9 C1030.8,378.8 1038.2,370.1 1040.6,368.9 C1043.0,367.7 1047.9,367.4 1050.6,367.7 C1053.3,368.0 1062.5,370.7 1065.7,371.4 C1068.9,372.1 1077.5,374.7 1080.7,373.9 C1083.9,373.1 1092.8,365.2 1095.7,363.9 C1098.6,362.6 1104.5,361.4 1108.2,361.4 C1111.9,361.4 1126.9,363.4 1130,363.9 C1133.1,364.4 1135.5,367.3 1137.6,366.4 C1139.7,365.5 1146.9,357.2 1150.1,355.1 C1153.3,353.0 1164.7,347.1 1167.6,346.4 C1170.5,345.7 1174.9,348.8 1177.6,348.9 C1180.3,349.0 1189.7,348.9 1192.6,347.6 C1195.5,346.3 1202.7,338.8 1205.1,336.4 C1207.5,334.0 1212.5,327.1 1215.2,325.1 C1217.9,323.1 1226.7,318.9 1230.2,317.6 C1233.7,316.3 1245.0,314.2 1247.7,312.6 C1250.4,311.0 1252.8,304.3 1255.2,302.6 C1257.6,300.9 1267.0,298.0 1270.2,296.3 C1273.4,294.6 1282.4,288.2 1285.3,286.3 C1288.2,284.4 1295.1,281.1 1297.8,278.8 C1300.5,276.5 1307.4,266.9 1310.3,265 C1313.2,263.1 1322.4,262.9 1325.3,261.3 C1328.2,259.7 1335.9,253.0 1337.8,250 C1339.7,247.0 1341.1,236.8 1342.7,232.8 C1344.3,228.8 1349.8,215.7 1352.7,212.8 C1355.6,209.9 1367.3,207.2 1370.2,205.3 C1373.1,203.4 1378.7,198.2 1380.3,195.3 C1381.9,192.4 1383.7,181.3 1385.3,177.8 C1386.9,174.3 1393.4,165.2 1395.3,162.7 C1397.2,160.2 1401.2,154.4 1402.8,154 C1404.4,153.6 1408.7,157.5 1410.3,159 C1411.9,160.5 1415.9,166.8 1417.8,167.7 C1419.7,168.6 1425.4,168.2 1427.8,167.7 C1430.2,167.2 1437.9,164.2 1440.3,162.7 C1442.7,161.2 1448.0,155.1 1450.4,154 C1452.8,152.9 1460.0,153.0 1462.9,152.7 C1465.8,152.4 1475.2,150.8 1477.9,151.5 C1480.6,152.2 1485.8,156.7 1487.9,159 C1490.0,161.3 1495.8,169.9 1497.9,172.7 C1500.0,175.5 1505.2,183.2 1507.9,185.3 C1510.6,187.4 1520.3,191.2 1523,192.8 C1525.7,194.4 1531.1,197.6 1533,200.3 C1534.9,203.0 1538.6,214.1 1540.5,217.8 C1542.4,221.5 1548.4,231.8 1550.5,235.3 C1552.6,238.8 1558.1,247.5 1560.5,250.4 C1562.9,253.3 1570.9,260.2 1573,262.9 C1575.1,265.6 1578.9,272.5 1580.5,275.4 C1582.1,278.3 1586.0,288.0 1588.1,290.4 C1590.2,292.8 1597.9,296.2 1600.6,297.9 C1603.3,299.6 1610.4,305.1 1613.1,306.7 C1615.8,308.3 1622.7,311.2 1625.6,312.9 C1628.5,314.6 1637.7,321.1 1640.6,323 C1643.5,324.9 1650.4,329.8 1653.1,330.5 C1655.8,331.2 1662.5,328.5 1665.7,329.2 C1668.9,329.9 1679.7,334.4 1683.2,336.7 C1686.7,339.0 1695.0,348.2 1698.2,350.5 C1701.4,352.8 1709.8,355.9 1713.2,358 C1716.6,360.1 1727.4,369.5 1730,370.5 C1732.6,371.5 1735.4,369.2 1737.2,367.7 C1739.0,366.2 1745.1,358.0 1747.2,356.4 C1749.3,354.8 1754.5,352.5 1757.2,352.6 C1759.9,352.7 1769.4,356.2 1772.3,357.7 C1775.2,359.2 1781.9,365.5 1784.8,366.4 C1787.7,367.3 1796.9,366.0 1799.8,366.4 C1802.7,366.8 1809.6,369.4 1812.3,370.2 C1815.0,371.0 1822.1,372.7 1824.8,373.9 C1827.5,375.1 1834.5,379.9 1837.4,381.4 C1840.3,382.9 1849.7,386.9 1852.4,387.7 C1855.1,388.5 1860.0,389.2 1862.4,388.9 C1864.8,388.6 1872.0,385.3 1874.9,385.2 C1877.8,385.1 1887.2,386.5 1889.9,387.7 C1892.6,388.9 1897.6,395.2 1899.9,396.5 C1902.2,397.8 1908.8,400.7 1911.2,400.2 C1913.6,399.7 1920.2,393.0 1922.5,391.5 C1924.8,390.0 1930.4,387.1 1932.5,386.4 C1934.6,385.7 1940.4,384.4 1942.5,385.2 C1944.6,386.0 1950.4,392.1 1952.5,394 C1954.6,395.9 1960.1,401.9 1962.5,402.7 C1964.9,403.5 1972.4,402.4 1975.1,401.5 C1977.8,400.6 1985.2,395.2 1987.6,394 C1990.0,392.8 1995.2,391.0 1997.6,390.2 C2000.0,389.4 2007.4,387.7 2010.1,386.4 C2012.8,385.1 2020.5,378.9 2022.6,377.7 C2024.7,376.5 2028.0,375.9 2030.1,375.2 C2032.2,374.5 2040.8,371.6 2042.1,371.2"/>
</g>
<g fill="#000">
<rect x="669.3" y="184.5" width="8.2" height="36.0" rx="2.2"/>
<rect x="669.3" y="253.5" width="8.2" height="36.0" rx="2.2"/>
<rect x="669.3" y="322.5" width="8.2" height="36.0" rx="2.2"/>
<rect x="669.3" y="391.5" width="8.2" height="36.0" rx="2.2"/>
<rect x="669.3" y="460.5" width="8.2" height="36.0" rx="2.2"/>
<rect x="669.3" y="529.5" width="8.2" height="36.0" rx="2.2"/>
<rect x="669.3" y="598.5" width="8.2" height="36.0" rx="2.2"/>
<rect x="669.3" y="667.5" width="8.2" height="36.0" rx="2.2"/>
<rect x="669.3" y="736.5" width="8.2" height="36.0" rx="2.2"/>
<rect x="669.3" y="805.5" width="8.2" height="36.0" rx="2.2"/>
<rect x="669.3" y="874.5" width="8.2" height="36.0" rx="2.2"/>
<rect x="669.3" y="943.5" width="8.2" height="36.0" rx="2.2"/>
<rect x="669.3" y="1012.5" width="8.2" height="36.0" rx="2.2"/>
<rect x="669.3" y="1081.5" width="8.2" height="36.0" rx="2.2"/>
<rect x="669.3" y="1150.5" width="8.2" height="36.0" rx="2.2"/>
<rect x="669.3" y="1219.5" width="8.2" height="36.0" rx="2.2"/>
<rect x="669.3" y="1288.5" width="8.2" height="36.0" rx="2.2"/>
<rect x="669.3" y="1357.5" width="8.2" height="36.0" rx="2.2"/>
<rect x="1403.3" y="122.2" width="5.6" height="35.3" rx="2.2"/>
<rect x="1403.3" y="190.2" width="5.6" height="36.0" rx="2.2"/>
<rect x="1403.3" y="259.0" width="5.6" height="25.0" rx="2.2"/>
<rect x="1452.7" y="114.0" width="8.0" height="32.5" rx="2.2"/>
<rect x="1452.7" y="179.4" width="8.0" height="35.4" rx="2.2"/>
<rect x="1452.7" y="248.0" width="8.0" height="25.0" rx="2.2"/>
<rect x="1460.3" y="343.0" width="5.9" height="35.7" rx="2.2"/>
<rect x="1460.3" y="411.2" width="5.9" height="35.8" rx="2.2"/>
<rect x="1460.3" y="479.0" width="5.9" height="23.5" rx="2.2"/>
<rect x="1474.7" y="578.3" width="8.2" height="36.9" rx="2.2"/>
<rect x="1474.7" y="646.4" width="8.2" height="26.4" rx="2.2"/>
<rect x="1493.4" y="781.0" width="8.2" height="30.0" rx="2.2"/>
<rect x="1493.4" y="844.0" width="8.2" height="36.0" rx="2.2"/>
<rect x="1493.4" y="913.5" width="8.2" height="24.7" rx="2.2"/>
<rect x="1529.3" y="1136.0" width="7.8" height="36.0" rx="2.2"/>
<rect x="1529.3" y="1204.0" width="7.8" height="36.5" rx="2.2"/>
<rect x="1529.3" y="1274.0" width="7.8" height="23.5" rx="2.2"/>
<rect x="1796.6" y="215.4" width="8.2" height="36.0" rx="2.2"/>
<rect x="1796.6" y="284.4" width="8.2" height="36.0" rx="2.2"/>
<rect x="1796.6" y="353.4" width="8.2" height="36.0" rx="2.2"/>
<rect x="1796.6" y="422.4" width="8.2" height="36.0" rx="2.2"/>
<rect x="1796.6" y="491.4" width="8.2" height="36.0" rx="2.2"/>
<rect x="1796.6" y="560.4" width="8.2" height="36.0" rx="2.2"/>
<rect x="1796.6" y="629.4" width="8.2" height="36.0" rx="2.2"/>
<rect x="1796.6" y="698.4" width="8.2" height="36.0" rx="2.2"/>
<rect x="1796.6" y="767.4" width="8.2" height="36.0" rx="2.2"/>
<rect x="1796.6" y="836.4" width="8.2" height="36.0" rx="2.2"/>
<rect x="1796.6" y="905.4" width="8.2" height="36.0" rx="2.2"/>
<rect x="1796.6" y="974.4" width="8.2" height="36.0" rx="2.2"/>
<rect x="1796.6" y="1043.4" width="8.2" height="36.0" rx="2.2"/>
<rect x="1796.6" y="1112.4" width="8.2" height="36.0" rx="2.2"/>
<rect x="1796.6" y="1181.4" width="8.2" height="36.0" rx="2.2"/>
<rect x="1796.6" y="1250.4" width="8.2" height="36.0" rx="2.2"/>
<rect x="1796.6" y="1319.4" width="8.2" height="36.0" rx="2.2"/>
<rect x="1796.6" y="1388.4" width="8.2" height="34.6" rx="2.2"/>
</g>
<text class="pk" x="622.1" y="181">488</text>
<text class="pk" x="1328.5" y="118.5">872</text>
<text class="pk" x="1440.0" y="115">895</text>
<text class="pk" x="1400.5" y="344.5">901</text>
<text class="pk" x="1428.0" y="550">910</text>
<text class="pk" x="1442.0" y="787">923</text>
<text class="pk" x="1478.0" y="1142">941</text>
<text class="pk" x="1768.1" y="214.0">1070</text>
<rect x="129.0" y="29.3" width="1899.6" height="1388.7" fill="none" stroke="#000" stroke-width="5.6"/>
<g stroke="#000" stroke-width="5.6">
<line x1="129.0" y1="1418.0" x2="129.0" y2="1448"/>
<line x1="319.0" y1="1418.0" x2="319.0" y2="1434"/>
<line x1="508.9" y1="1418.0" x2="508.9" y2="1448"/>
<line x1="698.9" y1="1418.0" x2="698.9" y2="1434"/>
<line x1="888.8" y1="1418.0" x2="888.8" y2="1448"/>
<line x1="1078.8" y1="1418.0" x2="1078.8" y2="1434"/>
<line x1="1268.8" y1="1418.0" x2="1268.8" y2="1448"/>
<line x1="1458.7" y1="1418.0" x2="1458.7" y2="1434"/>
<line x1="1648.7" y1="1418.0" x2="1648.7" y2="1448"/>
<line x1="1838.6" y1="1418.0" x2="1838.6" y2="1434"/>
<line x1="2028.6" y1="1418.0" x2="2028.6" y2="1448"/>
</g>
<text class="tk" x="128.5" y="1522.8">200</text>
<text class="tk" x="508.4" y="1522.8">400</text>
<text class="tk" x="888.3" y="1522.8">600</text>
<text class="tk" x="1268.3" y="1522.8">800</text>
<text class="tk" x="1648.2" y="1522.8">1000</text>
<text class="tk" x="2028.1" y="1522.8">1200</text>
<text class="ax" x="731.8" y="1622.5">Raman shift (cm</text>
<text transform="translate(1408.3,1581.5) scale(1.18,1)" style="font-size:60px;font-weight:normal">−</text>
<text transform="translate(1445.6,1576) scale(0.72,1)" style="font-size:56.5px">1</text>
<text class="ax" x="1469.1" y="1622.5">)</text>
<text class="ax" transform="translate(79.8,1201.7) rotate(-90)" x="0" y="0">Relative Intensity (a.u.)</text>
</svg></body></html>
